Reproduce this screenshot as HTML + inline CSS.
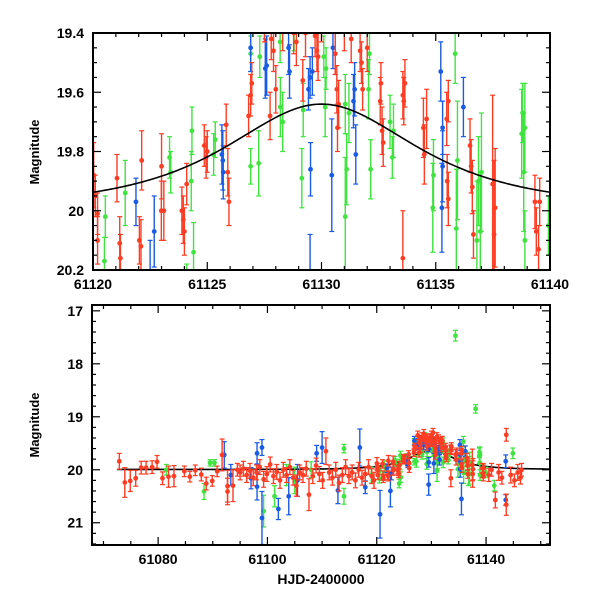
<!DOCTYPE html>
<html><head><meta charset="utf-8"><style>
body{margin:0;background:#fff;}
svg text{font-family:"Liberation Sans",sans-serif;font-weight:bold;fill:#000;}
</style></head><body>
<svg id="chart" width="600" height="600" viewBox="0 0 600 600" xmlns="http://www.w3.org/2000/svg">
<defs>
<clipPath id="clipTop"><rect x="93" y="33" width="457" height="237"/></clipPath>
<clipPath id="clipBot"><rect x="92" y="305" width="458" height="240"/></clipPath>
</defs>
<g id="top"></g>
<g id="bot"></g>
<text x="0" y="0" font-size="13" text-anchor="middle" transform="translate(39,152) rotate(-90)">Magnitude</text>
<text x="0" y="0" font-size="13" text-anchor="middle" transform="translate(39,425) rotate(-90)">Magnitude</text>
<text x="321" y="584" font-size="14" text-anchor="middle">HJD-2400000</text>
</svg>
<script>
const redPoints=[[61072.9,19.84,.15],[61073.9,20.24,.28],[61074.9,20.21,.2],[61075.9,20.16,.15],[61076.9,19.96,.12],[61077.8,19.96,.12],[61078.9,19.95,.12],[61079.8,19.85,.12],[61080.8,20.16,.12],[61081.9,20.13,.2],[61082.9,20.12,.2],[61084.8,20.03,.1],[61085.8,20.13,.1],[61086.8,20.01,.1],[61087.9,20.09,.12],[61088.8,20.26,.12],[61089.9,20.21,.1],[61090.8,20.03,.1],[61091.7,19.72,.3],[61092.7,20.31,.3],[61092.7,20.41,.25],[61093.7,20.3,.3],[61094.5,20.0,.12],
[61095.0,20.05,.14],[61095.6,19.98,.14],[61096.2,20.1,.14],[61096.8,20.02,.14],[61097.4,20.15,.15],[61098.0,20.05,.14],[61098.6,19.95,.14],[61099.3,20.18,.15],[61099.9,20.08,.14],[61100.5,19.9,.14],[61101.1,20.12,.14],[61101.7,20.04,.14],[61102.3,20.2,.15],[61102.9,20.0,.14],[61103.5,20.1,.14],[61104.1,19.95,.14],[61104.7,20.15,.14],[61105.3,20.3,.2],[61105.9,20.05,.14],[61106.5,20.1,.14],[61107.1,19.98,.14],[61107.6,20.47,.3],[61108.3,20.12,.14],[61108.9,19.92,.14],[61109.5,20.08,.14],[61110.1,20.2,.15],[61110.7,19.65,.25],[61111.3,20.05,.14],[61111.9,20.15,.14],[61112.5,20.0,.14],[61113.1,20.25,.15],[61113.7,20.1,.14],[61114.3,19.95,.14],[61114.9,20.12,.14],[61115.5,20.05,.14],[61116.1,20.2,.14],[61116.7,20.0,.14],[61117.3,20.15,.14],[61117.9,20.08,.14],[61118.5,19.95,.14],[61119.1,20.12,.14],[61119.5,20.2,.15],
[61120.03,19.88,.11],[61120.1,19.95,.07],[61120.2,20.01,.07],[61120.2,20.10,.08],[61121.05,19.89,.08],[61121.17,20.11,.09],[61121.2,20.16,.08],[61122.03,20.10,.08],[61122.1,20.12,.09],[61122.13,19.83,.1],[61122.99,20.0,.1],[61123.0,19.85,.11],[61123.1,20.0,.1],[61123.89,20.0,.08],[61123.95,20.03,.08],[61124.0,20.07,.08],[61124.1,19.91,.07],[61124.87,19.78,.07],[61124.95,19.82,.07],[61125.0,19.80,.07],[61125.83,19.71,.07],[61125.9,19.87,.08],[61125.95,19.97,.08],[61126.81,19.68,.07],[61126.9,19.61,.07],[61126.95,19.57,.07],[61127.75,19.68,.08],[61127.8,19.42,.07],[61127.9,19.46,.07],[61128.0,19.59,.08],[61128.78,19.40,.07],[61128.9,19.43,.08],[61129.18,19.56,.07],[61129.72,19.41,.07],[61129.8,19.46,.07],[61129.85,19.48,.08],[61130.67,19.59,.08],[61130.7,19.72,.08],[61130.75,19.64,.08],[61130.6,19.47,.07],[61131.69,19.46,.07],[61131.75,19.50,.07],[61131.8,19.59,.07],[61132.57,19.63,.08],[61132.65,19.73,.08],[61132.7,19.77,.08],[61132.6,19.57,.07],[61133.56,19.61,.08],[61133.6,19.63,.08],[61133.65,19.57,.08],[61133.56,20.16,.16],[61134.46,19.72,.1],[61134.5,19.81,.1],[61134.6,19.69,.1],[61135.48,19.69,.09],[61135.5,19.90,.09],[61135.55,19.96,.09],[61135.55,19.63,.07],[61136.5,19.78,.09],[61136.55,19.85,.09],[61136.6,19.92,.09],[61136.65,20.08,.08],[61137.49,19.91,.3],[61137.55,20.08,.25],[61137.6,19.99,.2],[61139.34,19.97,.09],[61139.4,20.07,.08],[61139.5,20.13,.08],[61139.55,19.97,.08],
[61127.5,19.35,.08],[61128.3,19.38,.08],[61128.6,19.32,.08],[61129.3,19.4,.08],[61130.0,19.35,.08],[61130.3,19.3,.08],[61131.0,19.38,.08],[61131.3,19.42,.08],[61132.0,19.45,.08],
[61140.5,20.1,.12],[61141.0,20.0,.12],[61141.7,20.57,.15],[61142.3,20.05,.15],[61142.9,20.15,.12],[61143.7,19.34,.12],[61143.7,20.66,.2],[61144.5,20.1,.15],[61145.2,20.2,.12],[61145.8,20.05,.15],[61146.3,20.15,.12],[61146.5,20.0,.12]];
const bluePoints=[[61092.1,19.72,.25],[61093.3,20.1,.2],[61097.0,20.16,.2],[61098.1,20.32,.25],[61098.1,19.69,.2],[61099.0,19.58,.15],[61099.0,20.91,.5],[61102.0,20.74,.2],[61103.9,20.5,.35],[61105.5,20.2,.3],[61109.0,19.69,.15],[61110.0,19.58,.3],[61112.9,20.39,.25],[61116.9,19.58,.35],[61117.9,20.33,.12],[61120.6,20.84,.45],[61122.5,20.4,.3],
[61121.88,19.97,.08],[61122.68,20.07,.12],[61125.64,19.81,.1],[61125.7,19.87,.09],[61125.68,19.83,.1],[61127.54,19.52,.1],[61127.6,19.51,.1],[61128.56,19.45,.09],[61128.6,19.53,.09],[61129.43,19.59,.07],[61129.5,19.55,.07],[61129.52,19.86,.09],[61130.45,19.88,.19],[61130.5,19.45,.07],[61130.6,19.47,.07],[61131.4,19.63,.09],[61131.45,19.59,.09],[61131.5,19.81,.1],[61135.22,19.53,.1],[61135.27,19.99,.15],[61135.3,19.85,.12],[61135.3,19.72,.09],[61136.21,19.65,.1],
[61126.9,19.45,.08],[61129.5,20.28,.2],[61129.6,19.53,.08],[61135.5,20.55,.3],[61143.6,20.57,.1],[61143.6,19.84,.12]];
const greenPoints=[[61081.5,20.0,.1],[61088.4,20.41,.15],[61089.5,19.87,.06],[61090.3,19.87,.06],[61099.3,20.78,.3],[61101.3,20.5,.2],[61103.5,20.1,.2],[61105.0,20.2,.25],[61108.0,20.0,.15],[61114.0,19.6,.08],[61114.0,20.5,.15],[61119.0,20.1,.15],
[61120.54,20.02,.07],[61120.5,20.17,.08],[61121.41,19.94,.11],[61123.35,19.82,.07],[61123.4,19.87,.07],[61124.33,19.73,.08],[61124.3,19.90,.1],[61124.4,20.14,.1],[61125.28,19.81,.07],[61125.35,19.76,.06],[61127.25,19.84,.11],[61127.3,19.48,.07],[61128.19,19.43,.07],[61128.2,19.65,.1],[61128.3,19.70,.1],[61129.14,19.89,.1],[61129.2,19.66,.09],[61130.16,19.65,.1],[61130.2,19.52,.07],[61130.1,19.48,.07],[61131.04,20.02,.2],[61131.1,19.86,.12],[61131.04,19.64,.1],[61131.2,19.67,.1],[61132.06,19.59,.1],[61132.1,19.47,.07],[61132.15,19.86,.1],[61133.0,19.70,.09],[61133.1,19.82,.07],[61133.15,19.73,.09],[61134.87,19.99,.15],[61134.9,19.88,.12],[61135.85,19.47,.1],[61135.9,20.06,.2],[61135.95,19.83,.2],[61136.87,19.90,.15],[61136.95,20.07,.2],[61137.0,19.87,.2],[61136.8,20.10,.2],[61138.76,19.74,.15],[61138.85,19.87,.2],[61138.9,19.72,.15],[61138.9,20.10,.1],[61139.93,20.05,.1],
[61124.1,20.26,.08],[61126.9,19.85,.06],[61126.9,19.47,.06],[61134.4,17.47,.1],[61138.1,18.85,.08],[61138.8,19.67,.1],[61144.9,19.69,.1],[61141.5,20.3,.1],[61128.8,19.38,.08]];
const topXTicks=[61120,61125,61130,61135,61140];
const topYTicks=[19.4,19.6,19.8,20,20.2];
const botXTicks=[61080,61100,61120,61140];
const botYTicks=[17,18,19,20,21];
const colors={green:'#3fe43f',blue:'#1a5be6',red:'#ff3c24'};
const NS='http://www.w3.org/2000/svg';
function el(tag,attrs,parent){const e=document.createElementNS(NS,tag);for(const k in attrs)e.setAttribute(k,attrs[k]);parent.appendChild(e);return e;}
function model(t){const x=(t-61130)/6.5;return 19.995-0.355/Math.pow(1+x*x,1.5);}
const panels=[
 {g:document.getElementById('top'),x0:61120,x1:61140,y0:19.4,y1:20.2,L:93,R:550,T:33,B:270,clip:'clipTop',xt:topXTicks,yt:topYTicks,xminor:1,yminor:0.05,xmaj:5,ymaj:0.2,mstart:61120,cap:2.5,r:2.4},
 {g:document.getElementById('bot'),x0:61067.9,x1:61151.7,y0:16.89,y1:21.42,L:92,R:550,T:305,B:545,clip:'clipBot',xt:botXTicks,yt:botYTicks,xminor:5,yminor:0.2,xmaj:20,ymaj:1,mstart:61072.5,cap:2.5,r:2.4}
];
panels.forEach((p,pi)=>{
 const xs=t=>p.L+(t-p.x0)/(p.x1-p.x0)*(p.R-p.L);
 const ys=m=>p.T+(m-p.y0)/(p.y1-p.y0)*(p.B-p.T);
 const data=el('g',{'clip-path':'url(#'+p.clip+')'},p.g);
 
 
 let d='';
 for(let t=p.mstart;t<=p.x1;t+=0.1){d+=(d?'L':'M')+xs(t).toFixed(2)+','+ys(model(t)).toFixed(2);}
 const drawLine=()=>{const ml=el('path',{d:d,fill:'none',stroke:'#000','stroke-width':1.6},data);
 
 };
 if(pi===1) drawLine();
 [['green',greenPoints],['blue',bluePoints],['red',redPoints]].forEach(([c,arr])=>{
  const sg=el('g',{},data);
  
  
  arr.forEach(dd=>{
   const x=xs(dd[0]),y=ys(dd[1]),y1=ys(dd[1]-dd[2]),y2=ys(dd[1]+dd[2]);
   const col=colors[c];
   el('line',{x1:x,x2:x,y1:y1,y2:y2,stroke:col,'stroke-width':1.4},sg);
   el('line',{x1:x-p.cap,x2:x+p.cap,y1:y1,y2:y1,stroke:col,'stroke-width':1.2},sg);
   el('line',{x1:x-p.cap,x2:x+p.cap,y1:y2,y2:y2,stroke:col,'stroke-width':1.2},sg);
   const dot=el('circle',{cx:x,cy:y,r:p.r,fill:col},sg);
   
   
  });
 });
 if(pi===0) drawLine();
 const ax=el('g',{stroke:'#000','stroke-width':1.2},p.g);
 
 
 el('rect',{x:p.L,y:p.T,width:p.R-p.L,height:p.B-p.T,fill:'none','stroke-width':2},ax);
 const eps=1e-6;
 for(let t=Math.ceil(p.x0/p.xminor)*p.xminor;t<=p.x1+eps;t+=p.xminor){
  const maj=Math.abs(t/p.xmaj-Math.round(t/p.xmaj))<1e-6; const len=maj?8:4; const x=xs(t);
  el('line',{x1:x,x2:x,y1:p.B,y2:p.B-len},ax); el('line',{x1:x,x2:x,y1:p.T,y2:p.T+len},ax);
 }
 for(let m=Math.ceil(p.y0/p.yminor-eps)*p.yminor;m<=p.y1+eps;m+=p.yminor){
  const maj=Math.abs(m/p.ymaj-Math.round(m/p.ymaj))<1e-4; const len=maj?8:4; const y=ys(m);
  el('line',{x1:p.L,x2:p.L+len,y1:y,y2:y},ax); el('line',{x1:p.R,x2:p.R-len,y1:y,y2:y},ax);
 }
 p.xt.forEach(v=>{const t=el('text',{x:xs(v),y:p.B+19,'font-size':14,'text-anchor':'middle'},p.g);t.textContent=String(v);
  
  });
 p.yt.forEach(v=>{const t=el('text',{x:p.L-9,y:ys(v)+5,'font-size':14,'text-anchor':'end'},p.g);t.textContent=String(v);
  
  });
});
</script>
</body></html>
